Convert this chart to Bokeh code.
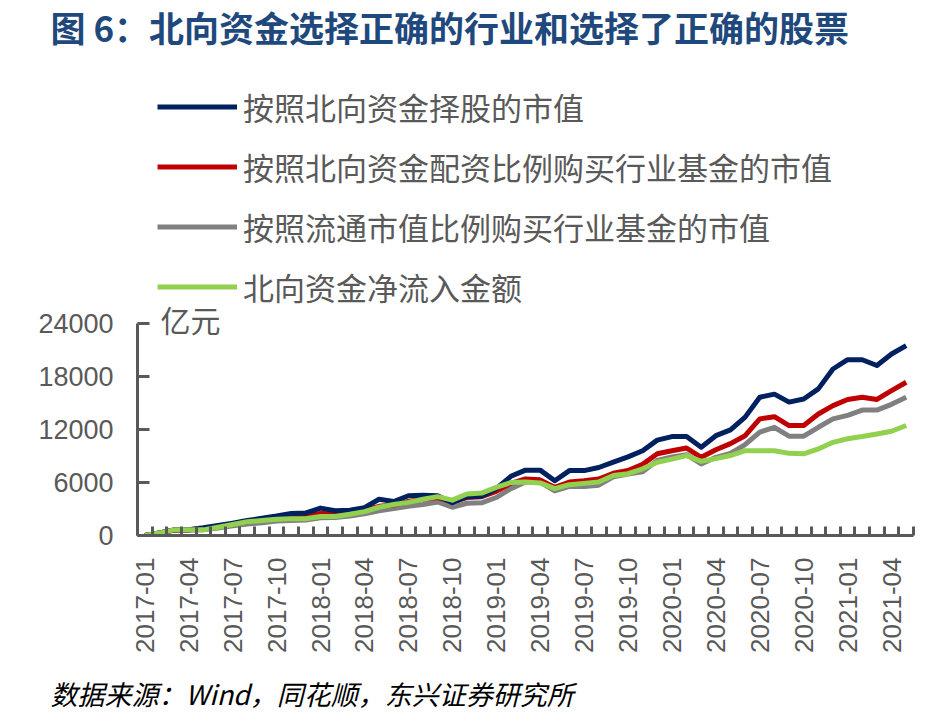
import math
from bokeh.plotting import figure
from bokeh.models import FixedTicker, Legend, LegendItem, Label, Title
from bokeh.embed import file_html
from bokeh.resources import INLINE

months = [
    "2017-01", "2017-02", "2017-03", "2017-04", "2017-05", "2017-06",
    "2017-07", "2017-08", "2017-09", "2017-10", "2017-11", "2017-12",
    "2018-01", "2018-02", "2018-03", "2018-04", "2018-05", "2018-06",
    "2018-07", "2018-08", "2018-09", "2018-10", "2018-11", "2018-12",
    "2019-01", "2019-02", "2019-03", "2019-04", "2019-05", "2019-06",
    "2019-07", "2019-08", "2019-09", "2019-10", "2019-11", "2019-12",
    "2020-01", "2020-02", "2020-03", "2020-04", "2020-05", "2020-06",
    "2020-07", "2020-08", "2020-09", "2020-10", "2020-11", "2020-12",
    "2021-01", "2021-02", "2021-03", "2021-04", "2021-05",
]

stock_pick = [
    0, 300, 640, 660, 870, 1130, 1400, 1700, 1950, 2200, 2500, 2550,
    3100, 2800, 2850, 3150, 4100, 3850, 4500, 4550, 4500, 3700, 4400, 4450,
    5300, 6700, 7400, 7400, 6200, 7350, 7350, 7700, 8300, 8900, 9600, 10800,
    11200, 11200, 10000, 11300, 11950, 13400, 15650, 16000, 15100, 15450, 16600, 18850,
    19900, 19900, 19250, 20550, 21500,
]
industry_nb = [
    0, 300, 620, 640, 800, 1050, 1300, 1550, 1850, 2000, 2100, 2250,
    2500, 2450, 2600, 2900, 3300, 3450, 3850, 4100, 4300, 3800, 4300, 4400,
    5000, 5900, 6400, 6300, 5450, 6050, 6200, 6400, 7050, 7350, 8050, 9250,
    9600, 9900, 8850, 9700, 10400, 11300, 13200, 13450, 12450, 12450, 13750, 14700,
    15400, 15650, 15400, 16400, 17350,
]
industry_mkt = [
    0, 280, 580, 600, 650, 850, 1100, 1300, 1450, 1650, 1700, 1750,
    2000, 2050, 2200, 2450, 2800, 3050, 3300, 3500, 3800, 3200, 3650, 3700,
    4300, 5300, 6050, 6050, 5050, 5550, 5550, 5700, 6650, 6950, 7200, 8500,
    8900, 9150, 8100, 8850, 9300, 10300, 11700, 12250, 11250, 11250, 12250, 13200,
    13600, 14200, 14200, 14850, 15650,
]
net_inflow = [
    0, 300, 640, 640, 640, 940, 1250, 1550, 1700, 1850, 1900, 1900,
    2150, 2150, 2400, 2700, 3200, 3500, 3750, 4100, 4400, 4000, 4700, 4800,
    5450, 6000, 6050, 5950, 5300, 5750, 5900, 6050, 6800, 7000, 7550, 8300,
    8650, 9050, 8400, 8700, 9050, 9600, 9600, 9600, 9300, 9250, 9800, 10550,
    10950, 11200, 11500, 11800, 12450,
]

series_names = [
    "按照北向资金择股的市值",
    "按照北向资金配资比例购买行业基金的市值",
    "按照流通市值比例购买行业基金的市值",
    "北向资金净流入金额",
]
series_colors = ["#002060", "#C00000", "#808080", "#92D050"]
y_ticks = [0, 6000, 12000, 18000, 24000]

title_text = "图 6：北向资金选择正确的行业和选择了正确的股票"
unit_text = "亿元"
source_text = "数据来源：Wind，同花顺，东兴证券研究所"

CJK = "Noto Sans CJK SC"
LAT = "Liberation Sans"
AX = "#595959"

# layout (canvas pixels)
W, H = 921, 728
F_LEFT, F_RIGHT, F_TOP, F_BOTTOM = 137, 913, 53, 535
AXIS_TOP_PX = 323  # pixel row of the top tick (24000)
y_top = y_ticks[-1] * (F_BOTTOM - F_TOP) / (F_BOTTOM - AXIS_TOP_PX)

xs = list(range(len(months)))

p = figure(width=W, height=H, x_range=(-0.5, len(months) - 0.5), y_range=(0, y_top),
           output_backend="svg", toolbar_location=None,
           min_border_left=F_LEFT, min_border_right=W - F_RIGHT,
           min_border_top=40, min_border_bottom=100)
p.outline_line_color = None
p.grid.visible = False
p.background_fill_color = "white"
p.border_fill_color = "white"

data = [stock_pick, industry_nb, industry_mkt, net_inflow]
renderers = {}
for idx in [2, 1, 0, 3]:
    r = p.line(xs, data[idx], line_color=series_colors[idx], line_width=5, line_join="round")
    renderers[idx] = r

# x axis
label_idx = list(range(0, len(months), 3))
p.xaxis.ticker = FixedTicker(ticks=label_idx, minor_ticks=[i - 0.5 for i in range(len(months) + 1)])
p.xaxis.major_label_overrides = {i: months[i] for i in label_idx}
p.xaxis.major_label_orientation = math.pi / 2
p.xaxis.major_tick_in = 0
p.xaxis.major_tick_out = 0
p.xaxis.minor_tick_in = 9
p.xaxis.minor_tick_out = 0
p.xaxis.minor_tick_line_width = 3
p.xaxis.minor_tick_line_color = AX
p.xaxis.axis_line_width = 3
p.xaxis.axis_line_color = AX
p.xaxis.major_label_text_font = LAT
p.xaxis.major_label_text_font_size = "26px"
p.xaxis.major_label_text_color = AX
p.xaxis.major_label_standoff = 22

# y axis
p.yaxis.ticker = FixedTicker(ticks=y_ticks, minor_ticks=[])
p.yaxis.bounds = (y_ticks[0], y_ticks[-1])
p.yaxis.major_label_overrides = {v: str(v) for v in y_ticks}
p.yaxis.major_tick_in = 12
p.yaxis.major_tick_out = 0
p.yaxis.major_tick_line_width = 3
p.yaxis.major_tick_line_color = AX
p.yaxis.minor_tick_line_color = None
p.yaxis.axis_line_width = 3
p.yaxis.axis_line_color = AX
p.yaxis.major_label_text_font = LAT
p.yaxis.major_label_text_font_size = "27px"
p.yaxis.major_label_text_color = AX
p.yaxis.major_label_standoff = 24

legend = Legend(items=[LegendItem(label=series_names[i], renderers=[renderers[i]]) for i in range(4)],
                location=(20, 226), orientation="vertical",
                label_text_font=CJK, label_text_font_size="31px", label_text_color=AX,
                glyph_width=80, glyph_height=45, label_height=45, spacing=15,
                label_standoff=6, padding=0, margin=0,
                border_line_color=None, background_fill_alpha=0)
p.add_layout(legend, "center")

p.add_layout(Label(x=160 - F_LEFT, y=F_BOTTOM - 318, x_units="screen", y_units="screen",
                   text=unit_text, text_font=CJK, text_font_size="30px", text_color=AX,
                   text_baseline="middle"))

p.add_layout(Title(text=title_text, align="left", offset=50 - F_LEFT, standoff=0,
                   vertical_align="top",
                   text_font=CJK, text_font_size="35px", text_font_style="bold",
                   text_color="#1F497D"), "above")
p.add_layout(Title(text=source_text, align="left", offset=50 - F_LEFT, standoff=32,
                   text_font=CJK, text_font_size="27px", text_font_style="italic",
                   text_color="#000000"), "below")

open("out.html", "w").write(file_html(p, INLINE))
